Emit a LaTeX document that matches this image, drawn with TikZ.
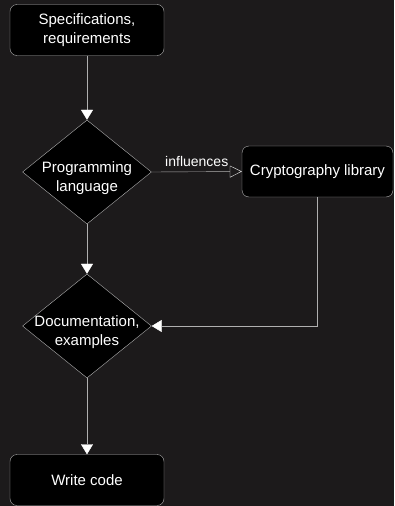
\documentclass[tikz,border=0pt]{standalone}
\usepackage{fontspec}
\setmainfont{Liberation Sans}
\usetikzlibrary{shapes.geometric,arrows.meta}
\definecolor{bgc}{HTML}{1C1A1B}
\definecolor{linec}{HTML}{B0B0B0}
\begin{document}
\begin{tikzpicture}[x=1pt,y=-1pt,
  txt/.style={text=white,align=center,font=\fontsize{15}{18.5}\selectfont},
  box/.style={txt,draw=linec,fill=black,rounded corners=7pt,minimum width=154pt,minimum height=51pt},
  decision/.style={diamond,draw=linec,fill=black,minimum width=129pt,minimum height=104pt,inner sep=0pt},
  flow/.style={draw=linec,-{Triangle[width=12pt,length=10pt,color=white]}}]
  \useasboundingbox (0,0) rectangle (394,506);
  \fill[bgc] (0,0) rectangle (394,506);
  % boxes and decisions
  \node[box] (spec) at (87,30) {Specifications,\\requirements};
  \node[decision] (lang) at (87,172) {};
  \node[txt] (langtxt) at (87,178) {Programming\\language};
  \node[box,minimum width=151pt] (crypto) at (317.5,171.5) {Cryptography library};
  \node[decision] (docs) at (87,326) {};
  \node[txt] (docstxt) at (87,332) {Documentation,\\examples};
  \node[box] (code) at (87,480) {Write code};
  % connectors
  \draw[flow] (spec) -- (lang);
  \draw[draw=linec,-{Triangle[open,width=12pt,length=12pt,fill=bgc,color=white!85!gray]}] (lang.east) -- node[above=2pt,text=white,font=\fontsize{14}{16}\selectfont] (infl) {influences} (crypto.west);
  \draw[flow] (crypto.south) |- (docs.east);
  \draw[flow] (lang) -- (docs);
  \draw[flow] (docs) -- (code);
\end{tikzpicture}
\end{document}
